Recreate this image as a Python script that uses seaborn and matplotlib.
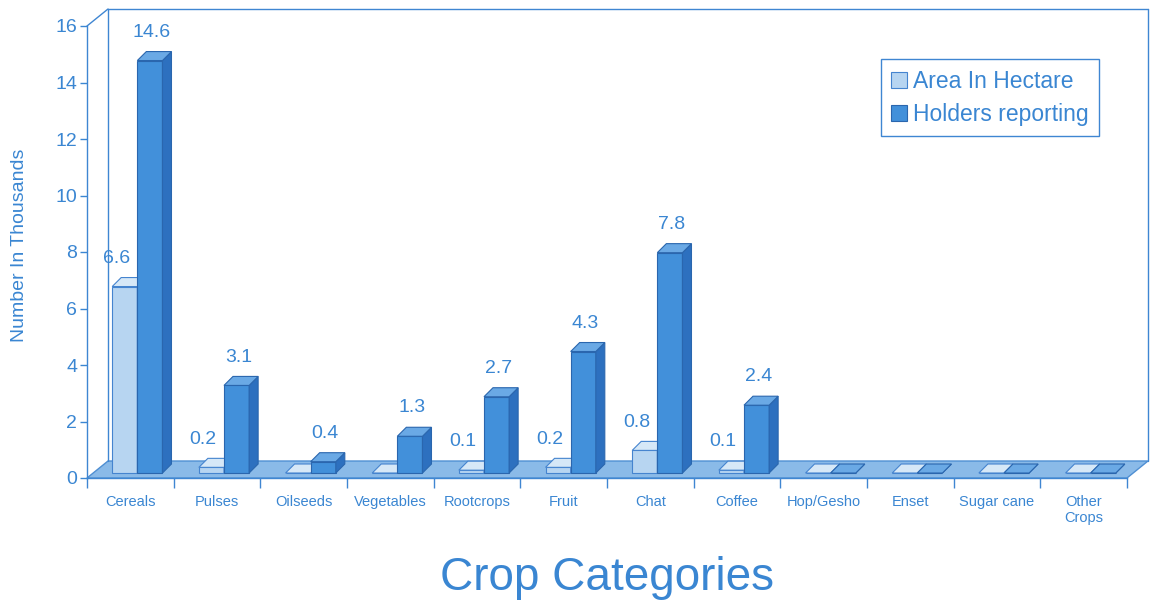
import numpy as np
import pandas as pd
import matplotlib
matplotlib.use("Agg")
import matplotlib.pyplot as plt
import seaborn as sns
from matplotlib.patches import Polygon, Patch
from matplotlib.lines import Line2D
from matplotlib.transforms import ScaledTranslation

# ---- data -------------------------------------------------------------
categories = ["Cereals", "Pulses", "Oilseeds", "Vegetables", "Rootcrops", "Fruit",
              "Chat", "Coffee", "Hop/Gesho", "Enset", "Sugar cane", "Other\nCrops"]
area_hectare = [6.6, 0.2, 0.0, 0.0, 0.1, 0.2, 0.8, 0.1, 0.0, 0.0, 0.0, 0.0]
holders_reporting = [14.6, 3.1, 0.4, 1.3, 2.7, 4.3, 7.8, 2.4, 0.0, 0.0, 0.0, 0.0]
series_names = ["Area In Hectare", "Holders reporting"]
y_ticks = [0, 2, 4, 6, 8, 10, 12, 14, 16]

series_values = [area_hectare, holders_reporting]
df = pd.DataFrame({
    "crop": categories * 2,
    "series": [series_names[0]] * len(categories) + [series_names[1]] * len(categories),
    "value": area_hectare + holders_reporting,
})

# ---- style ------------------------------------------------------------
TEXT = "#3a86d2"
LINE = "#3f86d2"
FRONT = ["#b7d5f1", "#4290da"]
SIDE = ["#8dbae6", "#2d70bf"]
TOP = ["#d6e8f7", "#6aa9e5"]
EDGE = ["#4584cf", "#2a66ae"]
FLOOR = "#8abae8"
LABEL_DX = [-1, 6.5]   # horizontal nudge of value labels per series (points)

sns.set_style("white")
plt.rcParams["font.family"] = ["Liberation Sans", "DejaVu Sans"]

W, H = 1153, 600
fig = plt.figure(figsize=(W / 100, H / 100), dpi=100)
ax = fig.add_axes([87 / W, 122 / H, 1040 / W, 452 / H])

sns.barplot(data=df, x="crop", y="value", hue="series", order=categories,
            hue_order=series_names, palette=dict(zip(series_names, FRONT)),
            width=0.58, saturation=1, errorbar=None, legend=False, ax=ax)
ax.set_xlim(-0.5, len(categories) - 0.5)
ax.set_ylim(0, 16)


def px(dx, dy):
    """Convert a pixel offset to data units."""
    x0, y0 = ax.transData.transform((0, 0))
    x1, y1 = ax.transData.transform((1, 1))
    return dx / (x1 - x0), dy / (y1 - y0)


# ---- 3-D floor and back wall ---------------------------------------------
fdx, fdy = px(21, 17)
xl, xr = -0.5, len(categories) - 0.5
ax.add_patch(Polygon([(xl, 0), (xr, 0), (xr + fdx, fdy), (xl + fdx, fdy)],
                     closed=True, facecolor=FLOOR, edgecolor="#4f8fd3", lw=1,
                     zorder=1, clip_on=False))
ax.add_line(Line2D([xl, xl + fdx], [16, 16 + fdy], color=LINE, lw=1, clip_on=False))
ax.add_line(Line2D([xl + fdx, xl + fdx], [fdy, 16 + fdy], color=LINE, lw=1, clip_on=False))
ax.add_line(Line2D([xl + fdx, xr + fdx], [16 + fdy, 16 + fdy], color=LINE, lw=1, clip_on=False))
ax.add_line(Line2D([xr + fdx, xr + fdx], [fdy, 16 + fdy], color=LINE, lw=1, clip_on=False))

# ---- 3-D bar faces -----------------------------------------------------
shift = ax.transData + ScaledTranslation(7 / 100, 5 / 100, fig.dpi_scale_trans)
bdx, bdy = px(9, 9)
for j, container in enumerate(ax.containers):
    for i, bar in enumerate(container.patches):
        z = 3 + i * 0.1 + j * 0.05
        x0 = bar.get_x()
        x1 = x0 + bar.get_width()
        h = bar.get_height()
        bar.set_transform(shift)
        bar.set_edgecolor(EDGE[j])
        bar.set_linewidth(0.8)
        bar.set_zorder(z)
        side = Polygon([(x1, 0), (x1 + bdx, bdy), (x1 + bdx, h + bdy), (x1, h)],
                       closed=True, facecolor=SIDE[j], edgecolor=EDGE[j], lw=0.8,
                       transform=shift, zorder=z + 0.01)
        top = Polygon([(x0, h), (x1, h), (x1 + bdx, h + bdy), (x0 + bdx, h + bdy)],
                      closed=True, facecolor=TOP[j], edgecolor=EDGE[j], lw=0.8,
                      transform=shift, zorder=z + 0.02)
        ax.add_patch(side)
        ax.add_patch(top)
        v = series_values[j][i]
        if v > 0:
            ax.annotate(f"{v:.1f}", xy=((x0 + x1) / 2, v), xytext=(LABEL_DX[j], 24),
                        textcoords="offset points", ha="center", va="center",
                        fontsize=14, color=TEXT, zorder=10)

# ---- axes --------------------------------------------------------------
for s in ("top", "right"):
    ax.spines[s].set_visible(False)
for s in ("left", "bottom"):
    ax.spines[s].set_color(LINE)
    ax.spines[s].set_linewidth(1)

ax.set_yticks(y_ticks)
ax.tick_params(axis="y", left=True, length=5, width=1, colors=TEXT, labelsize=14, pad=2)
ax.set_xticks(range(len(categories)))
ax.set_xticklabels(categories)
ax.set_xticks(np.arange(-0.5, len(categories), 1), minor=True)
ax.tick_params(axis="x", which="major", bottom=True, length=0, pad=12,
               labelsize=10.5, labelcolor=TEXT)
ax.tick_params(axis="x", which="minor", bottom=True, length=7, width=1, color=LINE)

ax.set_xlabel("Crop Categories", fontsize=33, color=TEXT, va="center")
ax.xaxis.set_label_coords(0.5, (22 - 122) / 452)
ax.set_ylabel("Number In Thousands", fontsize=14, color=TEXT, va="center")
ax.yaxis.set_label_coords((20 - 87) / 1040, 0.515)

handles = [Patch(facecolor=FRONT[k], edgecolor=EDGE[k], lw=0.8) for k in range(2)]
leg = fig.legend(handles, series_names, loc="upper right",
                 bbox_to_anchor=(1110 / W, 1 - 48 / H), fontsize=16.5,
                 handlelength=0.7, handleheight=0.7, handletextpad=0.25,
                 labelspacing=0.45, borderpad=0.45, frameon=True, fancybox=False,
                 framealpha=1, edgecolor=LINE)
leg.get_frame().set_linewidth(1)
for t in leg.get_texts():
    t.set_color(TEXT)

fig.savefig("out.png", dpi=100, facecolor="white")
